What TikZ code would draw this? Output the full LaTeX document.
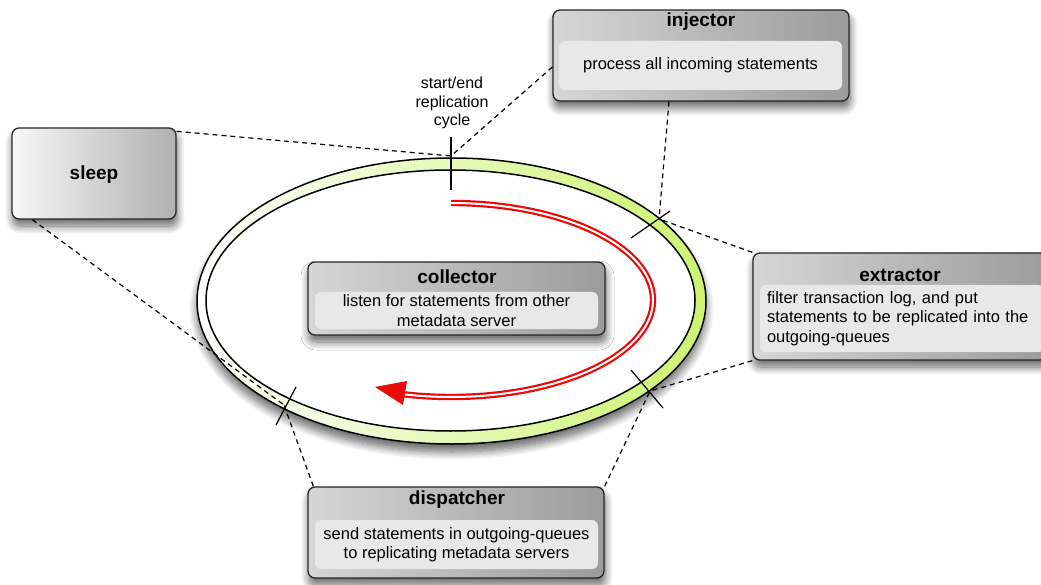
\documentclass[tikz,border=0pt]{standalone}
\usepackage{fontspec}
\setmainfont{Liberation Sans}
\usetikzlibrary{shadows.blur}
\definecolor{ringgreen}{RGB}{205,243,112}
\definecolor{panel}{RGB}{232,232,232}
\definecolor{arrowred}{RGB}{235,10,10}
\begin{document}
\begin{tikzpicture}[x=1pt,y=-1pt,
  box/.style={draw=black!85, line width=1.3pt, rounded corners=7pt, inner sep=0pt,
    left color=gray!32, right color=gray!78,
    blur shadow={shadow xshift=1pt, shadow yshift=-7pt, shadow blur radius=8pt,
      shadow blur steps=12, shadow opacity=60}},
  pnl/.style={fill=panel, rounded corners=6pt, inner sep=0pt, align=center,
    font=\fontsize{16.5}{19.5}\selectfont},
  ttl/.style={font=\fontsize{19}{22}\selectfont\bfseries},
  link/.style={dash pattern=on 5pt off 4pt, line width=1.2pt},
  tick/.style={line width=1.2pt},
  ringline/.style={draw=black, line width=1.5pt},
  ]
\path[use as bounding box, clip] (0,0) rectangle (1041,585);

% replication ring
\path[left color=white, right color=ringgreen,
  blur shadow={shadow xshift=0pt, shadow yshift=-8pt, shadow blur radius=8pt,
    shadow blur steps=12, shadow opacity=60}]
  (451.5,301) ellipse [x radius=254.5, y radius=143];
\path[fill=white] (450.5,300.5) ellipse [x radius=244.5, y radius=130.5];
\draw[ringline] (451.5,301) ellipse [x radius=254.5, y radius=143];
\draw[ringline] (450.5,300.5) ellipse [x radius=244.5, y radius=130.5];

% cycle direction
\draw[arrowred, line width=2.2pt, double=white, double distance=2pt]
  (451,203) arc[start angle=-90, end angle=105, x radius=202, y radius=97];
\fill[arrowred] (375,387) -- (407,381) -- (403,405) -- cycle;

% phase boundaries on the ring
\coordinate (cT)  at (451,156);
\coordinate (cUR) at (659,219);
\coordinate (cLR) at (650,391);
\coordinate (cLL) at (284,405);
\coordinate (tTa) at (451,137);  \coordinate (tTb) at (451,190);
\coordinate (tURa) at (631,238); \coordinate (tURb) at (670,211);
\coordinate (tLRa) at (631,370); \coordinate (tLRb) at (663,408);
\coordinate (tLLa) at (296,387); \coordinate (tLLb) at (276,425);
\draw[tick] (tTa) -- (tTb);
\draw[tick] (tURa) -- (tURb);
\draw[tick] (tLRa) -- (tLRb);
\draw[tick] (tLLa) -- (tLLb);

\node[font=\fontsize{16}{18.5}\selectfont, align=center] (cyclelabel) at (452,103)
  {start/end\\replication\\cycle};

% phase boxes
\node[box, minimum width=296pt, minimum height=91pt] (injector) at (701,55.5) {};
\node[box, left color=gray!6, right color=gray!62,
  minimum width=164pt, minimum height=91pt] (sleep) at (94,173.5) {};
\node[box, minimum width=294pt, minimum height=107pt] (extractor) at (900,306.5) {};
\node[box, minimum width=296pt, minimum height=91pt] (dispatcher) at (456,532.5) {};
\node[box, minimum width=297pt, minimum height=73pt] (collector) at (456.5,298.5) {};

% dashed links from the boxes to the ring
\draw[link] ([yshift=-4pt]sleep.north east) -- (cT);
\draw[link] ([xshift=21pt]sleep.south west) -- (cLL);
\draw[link] ([yshift=-11.5pt]injector.west) -- (cT);
\draw[link] ([xshift=-32pt]injector.south) -- (cUR);
\draw[link] (extractor.north west) -- (cUR);
\draw[link] (extractor.south west) -- (cLR);
\draw[link] ([xshift=6pt]dispatcher.north west) -- (cLL);
\draw[link] (dispatcher.north east) -- (cLR);

% titles and descriptions
\node[ttl] (injectorT) at (701,22) {injector};
\node[pnl, minimum width=283pt, minimum height=49pt] (injectorP) at (700.5,65.5)
  {process all incoming statements};

\node[ttl] (sleepT) at (94,175) {sleep};

\node[ttl] (extractorT) at (900,275) {extractor};
\node[pnl, align=left, text width=270pt, inner xsep=7pt, minimum height=67pt]
  (extractorP) at (902,318.5)
  {filter transaction log, and put\\statements to be replicated into the\\outgoing-queues};

\node[ttl] (dispatcherT) at (457,500) {dispatcher};
\node[pnl, minimum width=283pt, minimum height=49pt] (dispatcherP) at (456.5,544.5)
  {send statements in outgoing-queues\\to replicating metadata servers};

\node[ttl] (collectorT) at (457,277) {collector};
\node[pnl, minimum width=283pt, minimum height=37pt] (collectorP) at (456.5,310.5)
  {listen for statements from other\\metadata server};
\end{tikzpicture}
\end{document}
